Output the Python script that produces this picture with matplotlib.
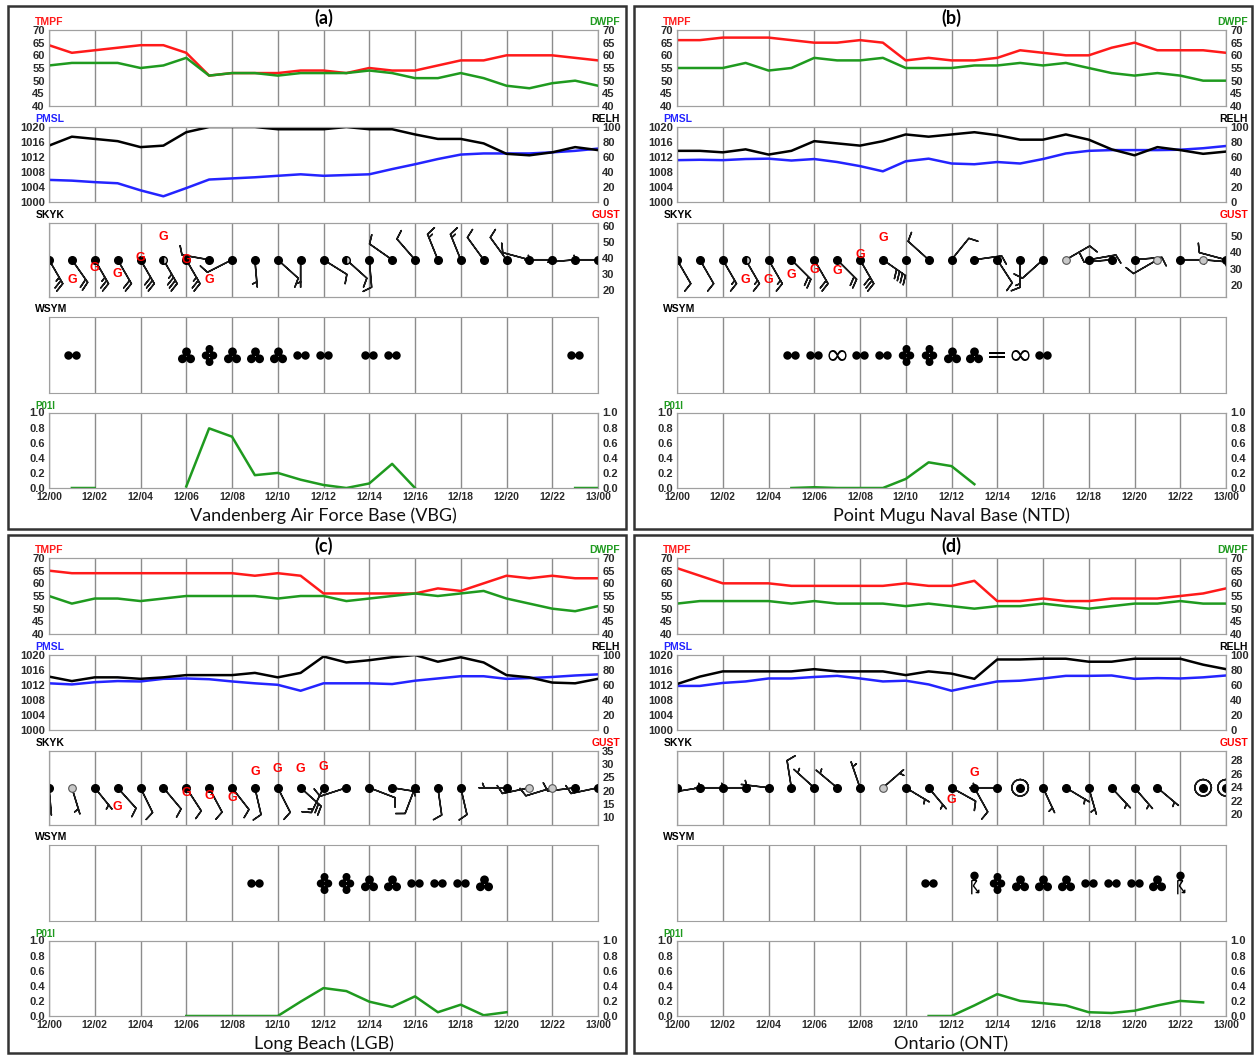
import numpy as np
import matplotlib
matplotlib.use('Agg')
import matplotlib.pyplot as plt
from matplotlib.path import Path
from matplotlib.patches import Rectangle

W, H = 1255, 1057
nan = np.nan
hours = np.arange(25)
xticks = list(range(0, 25, 2))
xlabels = ['12/%02d' % h for h in range(0, 24, 2)] + ['13/00']

# ---- Vandenberg (VBG)
tmpf_vbg = [64, 61, 62, 63, 64, 64, 61, 52, 53, 53, 53, 54, 54, 53, 55, 54, 54, 56, 58, 58, 60, 60, 60, 59, 58]
dwpf_vbg = [56, 57, 57, 57, 55, 56, 59, 52, 53, 53, 52, 53, 53, 53, 54, 53, 51, 51, 53, 51, 48, 47, 49, 50, 48]
pmsl_vbg = [1005.8, 1005.6, 1005.2, 1004.9, 1003.0, 1001.4, 1003.6, 1005.9, 1006.2, 1006.5, 1006.9, 1007.3, 1006.9,
            1007.1, 1007.3, 1008.7, 1010.0, 1011.4, 1012.6, 1012.9, 1012.9, 1012.9, 1013.2, 1013.6, 1014.2]
relh_vbg = [75, 87, 84, 81, 73, 75, 93, 100, 100, 100, 97, 97, 97, 100, 97, 97, 90, 84, 84, 78, 64, 62, 66, 73, 69]
sky_vbg = 'OOOOOBOOOOOOOBOOOOOOOOOOO'
wdir_vbg = [150, 145, 150, 150, 150, 150, 150, 280, 243, 175, 132, 180, 122, 132, 175, 305, 319, 338, 338, 324, 324,
            285, 270, 265, 270]
wspd_vbg = [25, 20, 25, 20, 30, 35, 25, 10, 10, 5, 10, 5, 10, 10, 10, 10, 10, 15, 15, 10, 10, 10, 5, 5, 5]
gust_hrs_vbg = [1, 2, 3, 4, 5, 6, 7]
gust_vbg = [26, 34, 30, 40, 53, 38.5, 26]
wsym_hrs_vbg = [1, 6, 7, 8, 9, 10, 11, 12, 14, 15, 23]
wsym_vbg = ['RA2', 'RA3', 'RA4', 'RA3', 'RA3', 'RA3', 'RA2', 'RA2', 'RA2', 'RA2', 'RA2']
p01i_vbg = [nan, 0, 0, nan, nan, nan, 0.02, 0.79, 0.68, 0.17, 0.2, 0.11, 0.04, 0.0, 0.06, 0.32, 0.0,
            nan, nan, nan, nan, nan, nan, 0, 0]

# ---- Point Mugu (NTD)
tmpf_ntd = [66, 66, 67, 67, 67, 66, 65, 65, 66, 65, 58, 59, 58, 58, 59, 62, 61, 60, 60, 63, 65, 62, 62, 62, 61]
dwpf_ntd = [55, 55, 55, 57, 54, 55, 59, 58, 58, 59, 55, 55, 55, 56, 56, 57, 56, 57, 55, 53, 52, 53, 52, 50, 50]
pmsl_ntd = [1011.1, 1011.2, 1011.1, 1011.4, 1011.5, 1011.0, 1011.4, 1010.6, 1009.5, 1008.1, 1010.8, 1011.5, 1010.2,
            1010.0, 1010.6, 1010.2, 1011.4, 1012.9, 1013.6, 1013.8, 1013.8, 1013.8, 1013.9, 1014.3, 1014.9]
relh_ntd = [68, 68, 66, 70, 63, 68, 81, 78, 75, 81, 90, 87, 90, 93, 89, 83, 83, 90, 83, 70, 62, 73, 69, 64, 67]
sky_ntd = 'OOOBOOOOOOOOOOOOOSOOOSOSO'
wdir_ntd = [150, 150, 150, 150, 150, 135, 150, 135, 150, 125, nan, 312, 39, 82, 147, 180, 228, 60, 80, 265, 85,
            240, 90, 95, 285]
wspd_ntd = [10, 10, 15, 15, 15, 20, 20, 20, 30, 40, nan, 10, 10, 10, 10, 15, 10, 10, 10, 10, 10, 10, 5, 5, 10]
gust_hrs_ntd = [3, 4, 5, 6, 7, 8, 9]
gust_ntd = [23, 23, 26, 29, 28.5, 38.5, 48.5]
wsym_hrs_ntd = [5, 6, 7, 8, 9, 10, 11, 12, 13, 14, 15, 16]
wsym_ntd = ['RA2', 'RA2', 'HZ', 'RA2', 'RA2', 'RA4', 'RA4', 'RA3', 'RA3', 'BR', 'HZ', 'RA2']
p01i_ntd = [nan, nan, nan, nan, nan, 0.0, 0.01, 0, 0, 0, 0.12, 0.34, 0.29, 0.05,
            nan, nan, nan, nan, nan, nan, nan, nan, nan, nan, nan]

# ---- Long Beach (LGB)
tmpf_lgb = [65, 64, 64, 64, 64, 64, 64, 64, 64, 63, 64, 63, 56, 56, 56, 56, 56, 58, 57, 60, 63, 62, 63, 62, 62]
dwpf_lgb = [55, 52, 54, 54, 53, 54, 55, 55, 55, 55, 54, 55, 55, 53, 54, 55, 56, 55, 56, 57, 54, 52, 50, 49, 51]
pmsl_lgb = [1012.4, 1012.1, 1012.7, 1013.0, 1012.9, 1013.6, 1013.7, 1013.5, 1012.9, 1012.4, 1012.0, 1010.4, 1012.4,
            1012.4, 1012.4, 1012.2, 1013.1, 1013.7, 1014.3, 1014.3, 1013.6, 1013.8, 1014.1, 1014.5, 1014.8]
relh_lgb = [71, 65, 70, 70, 68, 70, 73, 73, 73, 76, 70, 76, 98, 90, 93, 97, 100, 91, 97, 90, 73, 70, 63, 62, 68]
sky_lgb = 'OSOOOOOOOOOOOOOOOOO-OSSOO'
wdir_lgb = [175, 163, 141, 138, 154, 140, 147, 152, 142, 167, 153, 132, 206, 252, 111, 99, 201, 172, 167, nan, 270,
            258, 253, 263, 258]
wspd_lgb = [5, 5, 5, 10, 10, 10, 10, 10, 10, 10, 10, 20, 15, 10, 10, 5, 10, 10, 10, nan, 5, 10, 10, 10, 10]
gust_hrs_lgb = [3, 6, 7, 8, 9, 10, 11, 12]
gust_lgb = [14, 19.2, 18.1, 17.1, 26.9, 28.1, 28.1, 29.1]
wsym_hrs_lgb = [9, 12, 13, 14, 15, 16, 17, 18, 19]
wsym_lgb = ['RA2', 'RA4', 'RA4', 'RA3', 'RA3', 'RA2', 'RA2', 'RA2', 'RA3']
p01i_lgb = [nan, nan, nan, nan, nan, nan, 0, 0, 0, 0, 0, 0.19, 0.37, 0.33, 0.19, 0.12, 0.26, 0.05, 0.15, 0.01, 0.05,
            nan, nan, nan, nan]

# ---- Ontario (ONT)
tmpf_ont = [66, 63, 60, 60, 60, 59, 59, 59, 59, 59, 60, 59, 59, 61, 53, 53, 54, 53, 53, 54, 54, 54, 55, 56, 58]
dwpf_ont = [52, 53, 53, 53, 53, 52, 53, 52, 52, 52, 51, 52, 51, 50, 51, 51, 52, 51, 50, 51, 52, 52, 53, 52, 52]
pmsl_ont = [1011.7, 1011.7, 1012.5, 1012.9, 1013.7, 1013.7, 1014.1, 1014.4, 1013.7, 1012.9, 1013.1, 1012.1, 1010.4,
            1011.7, 1012.9, 1013.1, 1013.7, 1014.4, 1014.4, 1014.5, 1013.6, 1013.8, 1013.7, 1014.0, 1014.5]
relh_ont = [61, 71, 78, 78, 78, 78, 81, 78, 78, 78, 73, 78, 75, 68, 94, 94, 95, 95, 91, 91, 95, 95, 95, 87, 81]
sky_ont = 'OOOOOOOOOSOOOOOOOOOOOO-OO'
wdir_ont = [nan, 261, 270, 270, 277, 351, 312, 310, 341, 49, 121, 140, 119, 151, 270, 0, 155, 121, 164, 137, 139,
            130, nan, 0, 0]
wspd_ont = [nan, 5, 5, 5, 5, 10, 5, 5, 5, 5, 5, 5, 10, 10, 5, 0, 5, 5, 5, 5, 5, 5, nan, 0, 0]
gust_hrs_ont = [12, 13]
gust_ont = [22.1, 26.2]
wsym_hrs_ont = [11, 13, 14, 15, 16, 17, 18, 19, 20, 21, 22]
wsym_ont = ['RA2', 'TS', 'RA4', 'RA3', 'RA3', 'RA3', 'RA2', 'RA2', 'RA2', 'RA3', 'TS']
p01i_ont = [nan, nan, nan, nan, nan, nan, nan, nan, nan, nan, nan, 0, 0, 0.14, 0.29, 0.2, 0.17, 0.14, 0.05, 0.04,
            0.07, 0.14, 0.2, 0.18, nan]

RED, GREEN, BLUE = '#ff1a1a', '#1f9a1f', '#2424ff'
TXT = '#2a2a2a'
plt.rcParams['font.family'] = ['Liberation Sans', 'DejaVu Sans']


def dots(centers, r=0.5):
    return Path.make_compound_path(*[Path.circle(c, r) for c in centers])


ts_segs = [[(-0.35, 0.4), (-0.35, -1.4)], [(-0.35, 0.4), (0.3, 0.4)], [(0.3, 0.4), (-0.15, -0.3)],
           [(-0.15, -0.3), (0.55, -1.2)], [(0.55, -1.2), (0.55, -0.8)], [(0.55, -1.2), (0.15, -1.15)]]
ts_path = Path.make_compound_path(Path.circle((0, 1.0), 0.45), *[Path(s) for s in ts_segs])
wx_markers = {
    'RA2': (dots([(-0.47, 0), (0.47, 0)]), 140),
    'RA3': (dots([(0, 0.42), (-0.47, -0.38), (0.47, -0.38)]), 150),
    'RA4': (dots([(0, 0.82), (-0.47, 0), (0.47, 0), (0, -0.82)]), 230),
    'HZ': ('$\\infty$', 170),
    'BR': ('$=$', 120),
    'TS': (ts_path, 260),
}


def px_rect(x0, x1, y0, y1):
    return [x0 / W, 1 - y1 / H, (x1 - x0) / W, (y1 - y0) / H]


def style(ax, left=True):
    ax.set_xlim(0, 24)
    ax.set_xticks(xticks)
    ax.grid(axis='x', color='#8c8c8c', lw=1)
    ax.set_axisbelow(True)
    for s in ax.spines.values():
        s.set_color('#a0a0a0')
    ax.tick_params(length=0, pad=3, labelsize=8, labelcolor=TXT)
    ax.tick_params(axis='x', labelbottom=False)
    for lab in ax.get_yticklabels():
        lab.set_fontweight('bold')


def corner(ax, left_txt, lc, right_txt, rc, size=7.5):
    if left_txt:
        ax.text(-0.025, 1.035, left_txt, transform=ax.transAxes, color=lc, fontsize=size,
                fontweight='bold', ha='left', va='bottom')
    if right_txt:
        ax.text(1.04, 1.035, right_txt, transform=ax.transAxes, color=rc, fontsize=size,
                fontweight='bold', ha='right', va='bottom')


def panel(x0, x1, yo, letter, name, tmpf, dwpf, pmsl, relh, sky, wdir, wspd,
          g_hrs, g_val, g_lim, g_ticks, w_hrs, w_codes, p01i):
    # temperature / dewpoint
    ax = fig.add_axes(px_rect(x0, x1, yo + 30, yo + 106))
    ax.plot(hours, tmpf, color=RED, lw=1.8)
    ax.set_ylim(40, 70)
    ax.set_yticks(range(40, 71, 5))
    style(ax)
    ax2 = ax.twinx()
    ax2.plot(hours, dwpf, color=GREEN, lw=1.8)
    ax2.set_ylim(40, 70)
    ax2.set_yticks(range(40, 71, 5))
    style(ax2)
    corner(ax, 'TMPF', RED, 'DWPF', GREEN)
    ax.set_title(letter, fontsize=13, fontweight='bold', family='Lato', pad=4)

    # pressure / humidity
    ax = fig.add_axes(px_rect(x0, x1, yo + 127, yo + 201.5))
    ax.plot(hours, pmsl, color=BLUE, lw=1.8)
    ax.set_ylim(1000, 1020)
    ax.set_yticks(range(1000, 1021, 4))
    style(ax)
    ax2 = ax.twinx()
    ax2.plot(hours, relh, color='black', lw=1.8)
    ax2.set_ylim(0, 100)
    ax2.set_yticks(range(0, 101, 20))
    style(ax2)
    corner(ax, 'PMSL', BLUE, 'RELH', 'black')

    # sky cover, wind barbs and gusts
    ax = fig.add_axes(px_rect(x0, x1, yo + 223, yo + 296.5))
    ax.set_ylim(0, 1)
    style(ax)
    ax.set_yticks([])
    rad = np.deg2rad(np.array(wdir, dtype=float))
    spd = np.array(wspd, dtype=float)
    u = -spd * np.sin(rad)
    v = -spd * np.cos(rad)
    ok = ~np.isnan(spd)
    ax.barbs(hours[ok], np.full(ok.sum(), 0.5), u[ok], v[ok], length=6.3, pivot='tip',
             color='#1a1a1a', linewidth=1.1, sizes=dict(height=0.32, spacing=0.13, emptybarb=0.3))
    sky = np.array(list(sky))
    yy = np.full(25, 0.5)
    m = sky == 'O'
    ax.plot(hours[m], yy[m], 'o', ms=5.5, color='black', zorder=5)
    m = sky == 'B'
    ax.plot(hours[m], yy[m], 'o', ms=5.5, color='black', fillstyle='left', markerfacecoloralt='#cccccc', zorder=5)
    m = sky == 'S'
    ax.plot(hours[m], yy[m], 'o', ms=5.5, mfc='#c8c8c8', mec='#555555', mew=0.8, zorder=5)
    ax2 = ax.twinx()
    ax2.set_ylim(*g_lim)
    ax2.set_yticks(g_ticks)
    style(ax2)
    for h, g in zip(g_hrs, g_val):
        ax2.text(h, g, 'G', color='red', fontsize=9, fontweight='bold', ha='center', va='center')
    corner(ax, 'SKYK', 'black', 'GUST', 'red')

    # weather symbols
    ax = fig.add_axes(px_rect(x0, x1, yo + 317, yo + 393))
    ax.set_ylim(0, 1)
    style(ax)
    ax.set_yticks([])
    w_hrs = np.array(w_hrs)
    w_codes = np.array(w_codes)
    for code, (mk, sz) in wx_markers.items():
        m = w_codes == code
        if m.any():
            ax.scatter(w_hrs[m], np.full(m.sum(), 0.5), marker=mk, s=sz, color='black',
                       linewidths=1.0 if code == 'TS' else 0, zorder=5)
    corner(ax, 'WSYM', 'black', None, None)

    # hourly precipitation
    ax = fig.add_axes(px_rect(x0, x1, yo + 412.5, yo + 488))
    ax.plot(hours, p01i, color=GREEN, lw=1.8)
    ax.set_ylim(0, 1)
    ax.set_yticks(np.arange(0, 1.01, 0.2))
    ax.set_yticklabels(['%.1f' % t for t in np.arange(0, 1.01, 0.2)])
    style(ax)
    ax.tick_params(axis='x', labelbottom=True, labelsize=7.5)
    ax.set_xticklabels(xlabels, fontweight='bold')
    ax2 = ax.twinx()
    ax2.set_ylim(0, 1)
    ax2.set_yticks(np.arange(0, 1.01, 0.2))
    ax2.set_yticklabels(['%.1f' % t for t in np.arange(0, 1.01, 0.2)])
    style(ax2)
    ax.text(-0.025, 1.02, 'P01I', transform=ax.transAxes, color=GREEN, fontsize=7,
            fontweight='bold', ha='left', va='bottom')
    fig.text((x0 + x1) / 2 / W, 1 - (yo + 516) / H, name, fontsize=13, family='Lato',
             ha='center', va='center', color='#111111')


fig = plt.figure(figsize=(W / 100, H / 100), dpi=100)

for bx, by, bh in [(8, 6, 523), (634, 6, 523), (8, 535, 518), (634, 535, 518)]:
    fig.add_artist(Rectangle((bx / W, 1 - (by + bh) / H), 618 / W, bh / H, transform=fig.transFigure,
                             fill=False, lw=1.8, ec='#333333'))

panel(49, 598, 0, '(a)', 'Vandenberg Air Force Base (VBG)', tmpf_vbg, dwpf_vbg, pmsl_vbg, relh_vbg,
      sky_vbg, wdir_vbg, wspd_vbg, gust_hrs_vbg, gust_vbg, (15.8, 62.1), range(20, 61, 10),
      wsym_hrs_vbg, wsym_vbg, p01i_vbg)
panel(677, 1226, 0, '(b)', 'Point Mugu Naval Base (NTD)', tmpf_ntd, dwpf_ntd, pmsl_ntd, relh_ntd,
      sky_ntd, wdir_ntd, wspd_ntd, gust_hrs_ntd, gust_ntd, (13, 57.7), range(20, 51, 10),
      wsym_hrs_ntd, wsym_ntd, p01i_ntd)
panel(49, 598, 528, '(c)', 'Long Beach (LGB)', tmpf_lgb, dwpf_lgb, pmsl_lgb, relh_lgb,
      sky_lgb, wdir_lgb, wspd_lgb, gust_hrs_lgb, gust_lgb, (7.2, 34.8), range(10, 36, 5),
      wsym_hrs_lgb, wsym_lgb, p01i_lgb)
panel(677, 1226, 528, '(d)', 'Ontario (ONT)', tmpf_ont, dwpf_ont, pmsl_ont, relh_ont,
      sky_ont, wdir_ont, wspd_ont, gust_hrs_ont, gust_ont, (18.5, 29.4), range(20, 29, 2),
      wsym_hrs_ont, wsym_ont, p01i_ont)

fig.savefig('out.png', dpi=100)
